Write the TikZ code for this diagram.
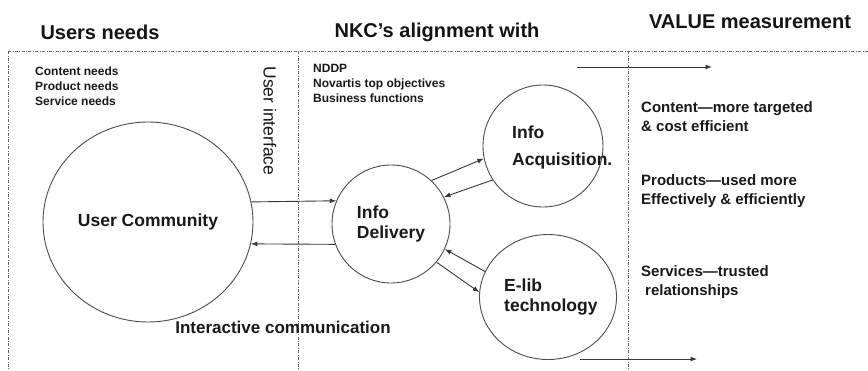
\documentclass[tikz,border=0pt]{standalone}
\usepackage{fontspec}
\setmainfont{Liberation Sans}
\usetikzlibrary{shapes.geometric,arrows.meta}
\begin{document}
\begin{tikzpicture}[x=1pt,y=-1pt,
  sep/.style={draw=black!60, line width=0.6pt, dash pattern=on 3pt off 1.5pt on 0.8pt off 1.5pt},
  circ/.style={ellipse, draw=black!70, line width=0.9pt, inner sep=0pt},
  arr/.style={draw=black!78, line width=0.9pt, -{Latex[length=6.5pt,width=5pt]}},
  title/.style={font=\fontsize{20}{24}\selectfont\bfseries, text=black!92},
  small/.style={font=\fontsize{12}{15}\selectfont\bfseries, align=left, anchor=west, text=black!90, inner sep=0pt},
  mid/.style={font=\fontsize{15}{19}\selectfont\bfseries, align=left, anchor=west, text=black!90, inner sep=0pt},
  big/.style={font=\fontsize{17.5}{20}\selectfont\bfseries, align=left, text=black!90, inner sep=0pt}]
\useasboundingbox (0,0) rectangle (868,370);
\fill[white] (0,0) rectangle (868,370);

% titles
\node[title] (t1) at (100,32) {Users needs};
\node[title] (t2) at (437,32) {NKC’s alignment with};
\node[title] (t3) at (750,22) {VALUE measurement};

% separators
\draw[sep] (8,51) -- (868,51);
\draw[sep] (8,51) -- (8,370);
\draw[sep] (298,51) -- (298,370);
\draw[sep] (628,51) -- (628,370);

% texts
\node[small] (needs) at (35,86) {Content needs\\Product needs\\Service needs};
\node[small] (nddp) at (313,83) {NDDP\\Novartis top objectives\\Business functions};
\node[mid] (v1) at (641,117) {Content—more targeted\\\& cost efficient};
\node[mid] (v2) at (641,191) {Products—used more\\Effectively \& efficiently};
\node[mid] (v3) at (641,282) {Services—trusted\\\hspace*{4pt}relationships};
\node[font=\fontsize{17.5}{20}\selectfont, text=black!90, rotate=-90] (ui) at (270,121) {User interface};
\node[font=\fontsize{17}{20}\selectfont\bfseries, text=black!90] (ic) at (283,327) {Interactive communication};

% circles
\node[circ, minimum width=210pt, minimum height=200pt, big] (uc) at (148,222) {User Community};
\node[circ, minimum width=118pt, minimum height=118pt, big] (del) at (391,224) {Info\\Delivery};
\node[circ, minimum width=120pt, minimum height=122pt] (acq) at (543,146) {};
\node[circ, minimum width=137pt, minimum height=125pt] (elib) at (548,297) {};
\node[big, anchor=west, font=\fontsize{17.5}{27}\selectfont\bfseries] (acqt) at (512,147) {Info\\Acquisition.};
\node[big, anchor=west] (elibt) at (504,297) {E-lib\\technology};

% connectors
\draw[arr] (uc.11) -- (del.157);
\draw[arr] (del.200) -- (uc.-12);
\draw[arr] (del.47) -- (acq.192);
\draw[arr] (acq.214) -- (del.27);
\draw[arr] (elib.158) -- (del.-25);
\draw[arr] (del.-40) -- (elib.176);

\coordinate (ra1) at (577,67);
\coordinate (ra2) at (712,67);
\coordinate (rb1) at (580,359);
\coordinate (rb2) at (697,359);
\draw[arr] (ra1) -- (ra2);
\draw[arr] (rb1) -- (rb2);
\end{tikzpicture}
\end{document}
